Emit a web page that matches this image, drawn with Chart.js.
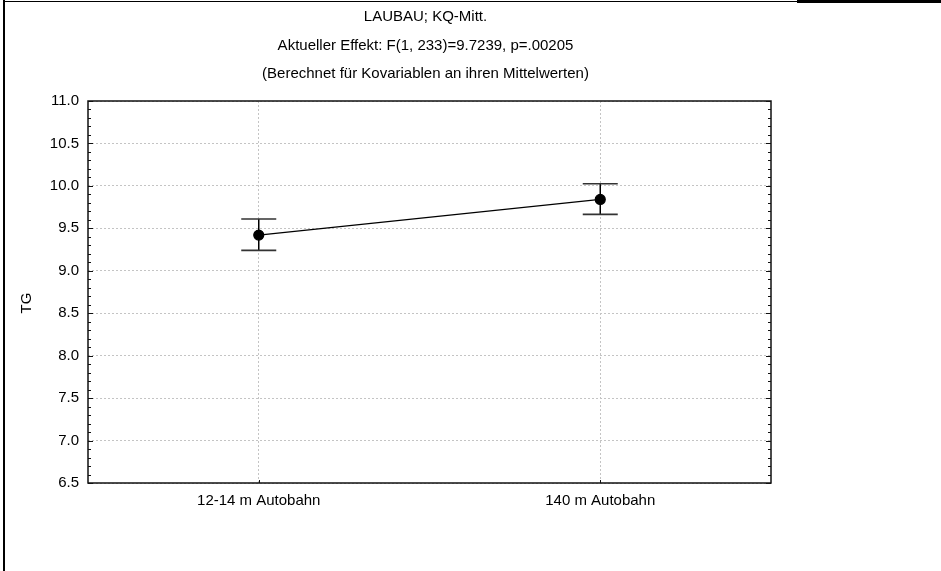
<!DOCTYPE html>
<html>
<head>
<meta charset="utf-8">
<script src="https://cdn.jsdelivr.net/npm/chart.js@4/dist/chart.umd.min.js"></script>
<style>
  body { margin: 0; background: #fff; }
  #wrap { width: 941px; height: 571px; }
</style>
</head>
<body>
<div id="wrap"><canvas id="myChart" width="941" height="571"></canvas></div>
<script>
var categories = ['12-14 m Autobahn', '140 m Autobahn'];
var means = [9.42, 9.84];
var lower = [9.24, 9.665];
var upper = [9.61, 10.025];
var titleLines = [
  'LAUBAU; KQ-Mitt.',
  'Aktueller Effekt: F(1, 233)=9.7239, p=.00205',
  '(Berechnet für Kovariablen an ihren Mittelwerten)'
];
var yLabel = 'TG';
var yMin = 6.5, yMax = 11.0, yStep = 0.5;

var FONT = '"Liberation Sans", Arial, sans-serif';

// error bars, drawn from the data through the scales
var errorBars = {
  id: 'errorBars',
  beforeDatasetsDraw: function(chart) {
    var ctx = chart.ctx, xs = chart.scales.x, ys = chart.scales.y;
    ctx.save();
    for (var i = 0; i < means.length; i++) {
      var x = xs.getPixelForValue(i);
      var yt = ys.getPixelForValue(upper[i]);
      var yb = ys.getPixelForValue(lower[i]);
      ctx.strokeStyle = '#000';
      ctx.lineWidth = 1.5;
      ctx.beginPath();
      ctx.moveTo(x, yt); ctx.lineTo(x, yb);
      ctx.stroke();
      ctx.strokeStyle = '#333';
      ctx.lineWidth = 1.6;
      ctx.beginPath();
      ctx.moveTo(x - 17.5, yt); ctx.lineTo(x + 17.5, yt);
      ctx.moveTo(x - 17.5, yb); ctx.lineTo(x + 17.5, yb);
      ctx.stroke();
    }
    ctx.restore();
  }
};

// box, minor ticks, y title, outer frame
var decor = {
  id: 'decor',
  afterLayout: function(chart) {
    // let the y tick labels spill left of the narrow axis box
    chart.scales.y.left = 0;
  },
  afterDraw: function(chart) {
    var ctx = chart.ctx, a = chart.chartArea, ys = chart.scales.y, xs = chart.scales.x;
    ctx.save();
    ctx.strokeStyle = '#111';
    ctx.lineWidth = 1.5;
    ctx.strokeRect(a.left, a.top, a.right - a.left, a.bottom - a.top);

    ctx.lineWidth = 1;
    ctx.beginPath();
    var n = Math.round((yMax - yMin) / 0.1);
    for (var k = 0; k <= n; k++) {
      var y = Math.round(ys.getPixelForValue(yMin + k * 0.1)) + 0.5;
      var len = (k % 5 === 0) ? 5 : 3;
      ctx.moveTo(a.left, y); ctx.lineTo(a.left + len, y);
      ctx.moveTo(a.right - len, y); ctx.lineTo(a.right, y);
    }
    for (var i = 0; i < categories.length; i++) {
      var x = Math.round(xs.getPixelForValue(i)) + 0.5;
      ctx.moveTo(x, a.bottom); ctx.lineTo(x, a.bottom - 3);
    }
    ctx.stroke();

    ctx.fillStyle = '#000';
    ctx.font = '15px ' + FONT;
    ctx.textAlign = 'center';
    ctx.textBaseline = 'middle';
    ctx.translate(27, 303);
    ctx.rotate(-Math.PI / 2);
    ctx.fillText(yLabel, 0, 0);
    ctx.restore();

    ctx.save();
    ctx.fillStyle = '#000';
    ctx.fillRect(3, 0, 2, chart.height);
    ctx.fillRect(3, 1, 794, 1);
    ctx.fillRect(797, 0, chart.width - 797, 3);
    ctx.restore();
  }
};

var ctx = document.getElementById('myChart').getContext('2d');
var myChart = new Chart(ctx, {
  type: 'scatter',
  data: {
    datasets: [{
      data: means.map(function(v, i) { return { x: i, y: v }; }),
      showLine: true,
      borderColor: '#000',
      borderWidth: 1.2,
      pointRadius: 5,
      pointHoverRadius: 5,
      pointBackgroundColor: '#000',
      pointBorderColor: '#000'
    }]
  },
  options: {
    responsive: false,
    animation: false,
    events: [],
    layout: { padding: { left: 80, right: 170, top: 0, bottom: 0 } },
    plugins: {
      legend: { display: false },
      tooltip: { enabled: false },
      title: {
        display: true,
        text: titleLines,
        color: '#000',
        font: { family: FONT, size: 15, weight: 'normal', lineHeight: 1.9 },
        padding: { top: 3, bottom: 12.5 }
      }
    },
    scales: {
      x: {
        type: 'linear',
        min: -0.5,
        max: 1.5,
        afterBuildTicks: function(scale) {
          scale.ticks = categories.map(function(c, i) { return { value: i }; });
        },
        afterFit: function(scale) { scale.height = 88; },
        ticks: {
          padding: 9,
          color: '#000',
          font: { family: FONT, size: 15 },
          maxRotation: 0,
          callback: function(v) { return categories[v]; }
        },
        grid: { color: '#c4c4c4', drawTicks: false },
        border: { display: false, dash: [2, 2] }
      },
      y: {
        min: yMin,
        max: yMax,
        afterFit: function(scale) { scale.width = 8; },
        ticks: {
          stepSize: yStep,
          padding: 9,
          color: '#000',
          font: { family: FONT, size: 15 },
          callback: function(v) { return Number(v).toFixed(1); }
        },
        grid: { color: '#c4c4c4', drawTicks: false },
        border: { display: false, dash: [2, 2] }
      }
    }
  },
  plugins: [errorBars, decor]
});
</script>
</body>
</html>
